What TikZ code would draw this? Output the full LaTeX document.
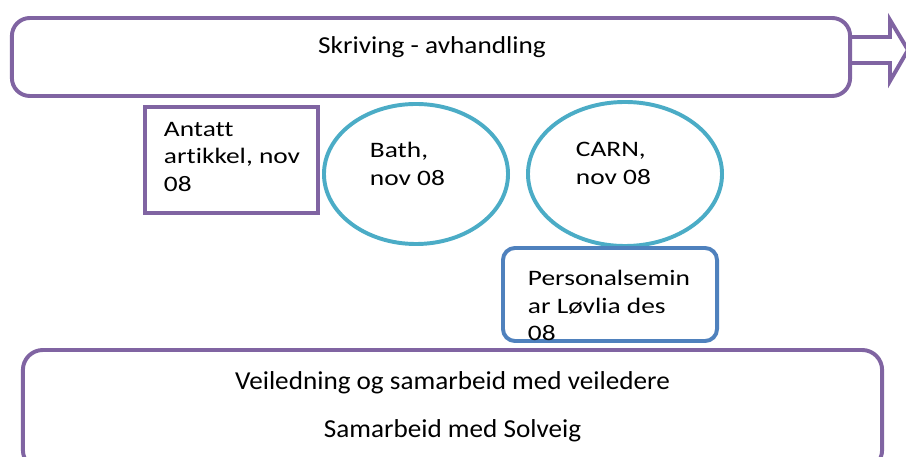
\documentclass[tikz,border=0pt]{standalone}
\usepackage{fontspec}
\setmainfont{Carlito}
\newfontfamily\boxfont[FakeStretch=1.24, Ligatures=NoCommon]{Carlito}
\newfontfamily\headfont[FakeStretch=1.12, Ligatures=NoCommon]{Carlito}
\newfontfamily\footfont[FakeStretch=1.05, Ligatures=NoCommon]{Carlito}
\usetikzlibrary{shapes.geometric, positioning, calc}
\definecolor{planPurple}{HTML}{8064A2}
\definecolor{planTeal}{HTML}{4BACC6}
\definecolor{planBlue}{HTML}{4F81BD}

\begin{document}
\begin{tikzpicture}[x=0.025cm, y=-0.025cm, line width=2.8pt,
    purplebox/.style={draw=planPurple, rectangle, inner sep=0pt},
    oval/.style={draw=planTeal, ellipse, inner sep=0pt},
    txt/.style={font=\boxfont\fontsize{15.7}{19.8}\selectfont, align=left, inner sep=0pt, anchor=north west}]
    \useasboundingbox (0,0) rectangle (906,457);
    % Writing
    \draw[draw=planPurple, fill=white, line join=miter] (850,37) -- (890,37) -- (890,20) -- (908,50) -- (890,81) -- (890,63) -- (850,63);
    \node[purplebox, rounded corners=0.45cm, minimum width=20.95cm, minimum height=1.95cm, fill=white] at (431,57) (skriv) {};
    \node[txt, anchor=north, font=\headfont\fontsize{17.3}{20}\selectfont] at (432,35) (skrivtxt) {Skriving - avhandling};

    % Events
    \node[purplebox, minimum width=4.325cm, minimum height=2.65cm] at (231.5,160) (antatt) {};
    \node[txt] at (162,120) (antatttxt) {Antatt\\artikkel, nov\\08};
    \node[oval, minimum width=4.6cm, minimum height=3.5cm] at (416,174) (bath) {};
    \node[txt] at (368,140) (bathtxt) {Bath,\\nov 08};
    \node[oval, minimum width=4.85cm, minimum height=3.6cm] at (625,174) (carn) {};
    \node[txt] at (574,140) (carntxt) {CARN,\\nov 08};
    \node[draw=planBlue, rectangle, rounded corners=0.3cm, inner sep=0pt, minimum width=5.35cm, minimum height=2.325cm] at (610,294.5) (seminar) {};
    \node[txt] at (526,268) (seminartxt) {Personalsemin\\ar Løvlia des\\08};

    % Supervision
    \node[purplebox, rounded corners=0.5cm, minimum width=21.475cm, minimum height=3cm] at (452.5,410) (veil) {};
    \node[txt, anchor=north, align=center, font=\footfont\fontsize{18.4}{34}\selectfont] at (452.5,370) (veiltxt) {Veiledning og samarbeid med veiledere\\Samarbeid med Solveig};
\end{tikzpicture}
\end{document}
